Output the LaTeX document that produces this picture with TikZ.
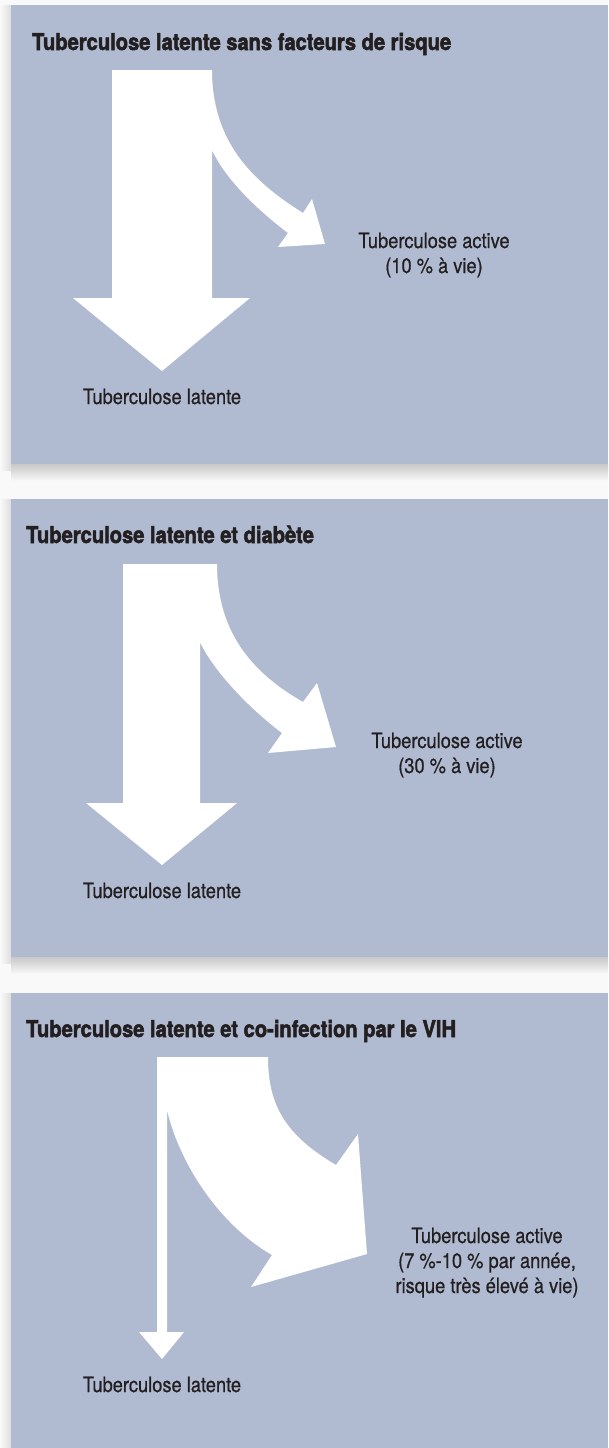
\documentclass[tikz,border=0pt]{standalone}
\usepackage{fontspec}
\setmainfont{TeX Gyre Heros}[FakeStretch=0.87, FakeBold=0.6]
\newfontfamily\titlefont{TeX Gyre Heros}[FakeStretch=0.875, BoldFeatures={FakeBold=2.2}]
\definecolor{panel}{RGB}{176,187,210}
\definecolor{ink}{RGB}{35,31,32}
\definecolor{paper}{RGB}{249,249,249}
\definecolor{shadowc}{RGB}{200,200,200}
\definecolor{sideshadow}{RGB}{222,222,222}
\begin{document}
\begin{tikzpicture}[x=1pt,y=-1pt,
  paneltitle/.style={anchor=base west, inner sep=0pt, font=\titlefont\bfseries\fontsize{23}{26}\selectfont, text=ink},
  tblabel/.style={anchor=base, inner sep=0pt, align=center, font=\fontsize{21}{25}\selectfont, text=ink},
  flow/.style={fill=white, draw=none},
  panelbox/.style={fill=panel, draw=none}]
\useasboundingbox (0,0) rectangle (608,1448);
\fill[paper] (0,0) rectangle (608,1448);
% shadows
\shade[top color=shadowc, bottom color=paper] (11,464) rectangle (608,481);
\shade[top color=shadowc, bottom color=paper] (11,957) rectangle (608,974);
\shade[left color=paper, right color=sideshadow] (0,5) rectangle (11,470);
\shade[left color=paper, right color=sideshadow] (0,499) rectangle (11,963);
\shade[left color=paper, right color=sideshadow] (0,993) rectangle (11,1448);
% panels
\fill[panelbox] (11,5) rectangle (608,464);
\fill[panelbox] (11,499) rectangle (608,957);
\fill[panelbox] (11,993) rectangle (608,1448);
% panel 1 arrows
\fill[flow] (112,70) -- (212,70) .. controls (212,140) and (250,180) .. (303,213) -- (312,199) -- (325,244) -- (278,247) -- (288,233) .. controls (255,208) and (225,178) .. (212,150) -- (212,298) -- (250,298) -- (162,371) -- (73,298) -- (112,298) -- cycle;
% panel 2 arrows
\fill[flow] (123,564) -- (217,564) .. controls (217,630) and (250,672) .. (303,702) -- (317,683) -- (336,747) -- (268,753) -- (282,733) .. controls (245,705) and (212,668) .. (200,642) -- (200,803) -- (237,803) -- (162,865) -- (86,803) -- (123,803) -- cycle;
% panel 3 arrows
\fill[flow] (157,1057) -- (268,1057) .. controls (268,1105) and (285,1135) .. (336,1165) -- (358,1134) -- (367,1254) -- (251,1287) -- (272,1255) .. controls (220,1225) and (180,1165) .. (167,1110) -- (167,1332) -- (184,1332) -- (162,1359) -- (139,1332) -- (157,1332) -- cycle;
% texts
\node[paneltitle] (t1) at (32,50) {Tuberculose latente sans facteurs de risque};
\node[paneltitle] (t2) at (26,543) {Tuberculose latente et diabète};
\node[paneltitle] (t3) at (26,1037) {Tuberculose latente et co-infection par le VIH};
\node[tblabel] (lat1) at (162,404) {Tuberculose latente};
\node[tblabel] (lat2) at (162,898) {Tuberculose latente};
\node[tblabel] (lat3) at (162,1392) {Tuberculose latente};
\node[tblabel] (act1) at (434,273) {Tuberculose active\\(10~\% à vie)};
\node[tblabel] (act2) at (447,773) {Tuberculose active\\(30~\% à vie)};
\node[tblabel] (act3) at (487,1293) {Tuberculose active\\(7~\%-10~\% par année,\\risque très élevé à vie)};
\end{tikzpicture}
\end{document}
